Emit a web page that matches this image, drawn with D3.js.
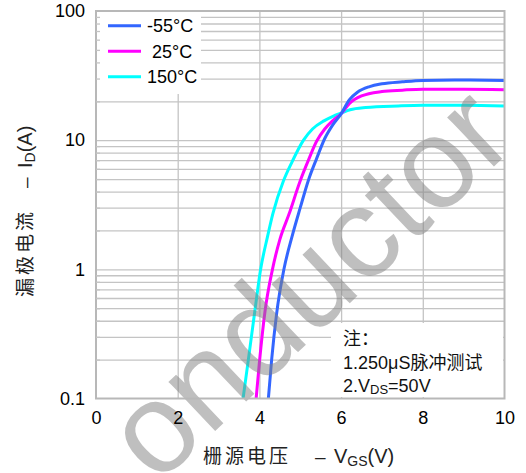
<!DOCTYPE html>
<html>
<head>
<meta charset="utf-8">
<script src="https://cdn.jsdelivr.net/npm/d3@7"></script>
<style>
  body { margin: 0; background: #fff; }
  svg { display: block; font-family: "Liberation Sans", Arial, "Noto Sans CJK SC", sans-serif; }
</style>
</head>
<body>
<script>
// series: VGS (V) and ID (A)
const seriesNames = ["-55°C", "25°C", "150°C"]
const seriesColors = ["#3366ff", "#ff00ff", "#00ffff"]

const vgsM55 = [4.22, 4.3, 4.42, 4.6, 4.8, 5.0, 5.2, 5.4, 5.6, 5.8, 6.0, 6.2, 6.4, 6.7, 7.0, 7.5, 8.0, 9.0, 10]
const idM55  = [0.1, 0.2, 0.45, 1, 1.8, 3, 4.9, 7.2, 10.3, 13.2, 16, 20.5, 23.5, 26, 27.3, 28.3, 29, 29.2, 29]

const vgs25 = [3.92, 4.0, 4.14, 4.32, 4.5, 4.73, 5.0, 5.2, 5.4, 5.6, 5.8, 6.0, 6.2, 6.5, 7.0, 7.5, 8.0, 9.0, 10]
const id25  = [0.1, 0.19, 0.48, 1, 1.7, 2.7, 4.85, 7, 9.8, 12.2, 14.2, 16, 19.2, 22, 23.8, 24.4, 24.8, 24.8, 24.6]

const vgs150 = [3.6, 3.73, 3.89, 4.03, 4.2, 4.33, 4.59, 4.8, 5.08, 5.3, 5.58, 5.8, 6.0, 6.22, 6.6, 7.4, 8.0, 9.0, 10]
const id150  = [0.1, 0.2, 0.48, 1, 1.8, 2.7, 4.85, 6.8, 10, 12.2, 14.1, 15.3, 16.2, 17.2, 17.9, 18.4, 18.6, 18.6, 18.4]

const xTicks = [0, 2, 4, 6, 8, 10]
const xGrid = [2, 4, 6, 8]
const yTicks = [0.1, 1, 10, 100]
const yTickLabels = ["0.1", "1", "10", "100"]

const series = [
    {name: seriesNames[0], color: seriesColors[0], pts: vgsM55.map((v, i) => [v, idM55[i]])},
    {name: seriesNames[1], color: seriesColors[1], pts: vgs25.map((v, i) => [v, id25[i]])},
    {name: seriesNames[2], color: seriesColors[2], pts: vgs150.map((v, i) => [v, id150[i]])}
]

const W = 526, H = 473
const pLeft = 96, pRight = 504.5, pTop = 11, pBottom = 398.5

const svg = d3.select("body").append("svg")
    .attr("width", W)
    .attr("height", H)

const x = d3.scaleLinear().domain([0, 10]).range([pLeft, pRight])
const y = d3.scaleLog().domain([0.1, 100]).range([pBottom, pTop])

// every 1..9 step inside each decade
const minor = []
for (let d = 0.1; d < 100; d *= 10) {
    for (let k = 2; k <= 9; k++) minor.push(+(d * k).toPrecision(2))
}
const gridVals = minor.concat([1, 10])

const gridColor = "#c4c4c4"

// horizontal grid
svg.append("g")
    .attr("transform", `translate(${pLeft},0)`)
    .call(d3.axisLeft(y).tickValues(gridVals).tickSize(-(pRight - pLeft)).tickFormat(""))
    .call(g => g.select(".domain").remove())
    .selectAll("line").attr("stroke", gridColor).attr("stroke-width", 1.3)

// vertical grid
svg.append("g")
    .attr("transform", `translate(0,${pBottom})`)
    .call(d3.axisBottom(x).tickValues(xGrid).tickSize(-(pBottom - pTop)).tickFormat(""))
    .call(g => g.select(".domain").remove())
    .selectAll("line").attr("stroke", gridColor).attr("stroke-width", 1.3)

svg.append("clipPath").attr("id", "plot")
    .append("rect").attr("x", pLeft).attr("y", pTop).attr("width", pRight - pLeft).attr("height", pBottom - pTop)

const line = d3.line()
    .x(d => x(d[0]))
    .y(d => y(d[1]))
    .curve(d3.curveMonotoneX)

svg.append("g").attr("clip-path", "url(#plot)")
    .selectAll("path")
    .data(series.slice().reverse())
    .join("path")
    .attr("d", d => line(d.pts))
    .attr("fill", "none")
    .attr("stroke", d => d.color)
    .attr("stroke-width", 3)

// watermark
svg.append("text")
    .attr("transform", "translate(157,486) rotate(-43.5)")
    .attr("font-size", 128)
    .attr("fill", "#808080")
    .attr("fill-opacity", 0.5)
    .text("onductor")

// legend
svg.append("rect")
    .attr("x", pLeft + 1).attr("y", pTop + 1).attr("width", 104).attr("height", 82)
    .attr("fill", "#fff")

const legend = svg.append("g")
series.forEach((s, i) => {
    const ly = 25.7 + i * 25.5
    legend.append("line")
        .attr("x1", 108).attr("x2", 141).attr("y1", ly).attr("y2", ly)
        .attr("stroke", s.color).attr("stroke-width", 3)
    legend.append("text")
        .attr("x", i === 1 ? 152 : 147).attr("y", ly + 6.5)
        .attr("font-size", 18)
        .text(s.name)
})

// note box
svg.append("rect")
    .attr("x", 331).attr("y", 323).attr("width", 172).attr("height", 74)
    .attr("fill", "#fff")

const note = svg.append("g").attr("font-size", 18).attr("fill", "#111")
note.append("text").attr("x", 343).attr("y", 345).text("注：")
note.append("text").attr("x", 343).attr("y", 369).text("1.250μS脉冲测试")
const n3 = note.append("text").attr("x", 343).attr("y", 392)
n3.append("tspan").text("2.V")
n3.append("tspan").attr("font-size", 13).attr("dy", 2).text("DS")
n3.append("tspan").attr("dy", -2).text("=50V")

// frame
svg.append("rect")
    .attr("x", pLeft).attr("y", pTop).attr("width", pRight - pLeft).attr("height", pBottom - pTop)
    .attr("fill", "none").attr("stroke", "#b8b8b8").attr("stroke-width", 2)

// small inner ticks on the left
svg.append("g")
    .attr("transform", `translate(${pLeft},0)`)
    .call(d3.axisRight(y).tickValues(minor).tickSize(4).tickFormat(""))
    .call(g => g.select(".domain").remove())
    .selectAll("line").attr("stroke", gridColor).attr("stroke-width", 1.3)

// tick labels
svg.append("g")
    .attr("transform", `translate(${pLeft},0)`)
    .call(d3.axisLeft(y).tickValues(yTicks).tickSize(0).tickPadding(11)
        .tickFormat((d, i) => yTickLabels[i]))
    .call(g => g.select(".domain").remove())
    .selectAll("text").attr("font-size", 18).attr("fill", "#000")
    .attr("font-family", "Liberation Sans, Arial, sans-serif")

svg.append("g")
    .attr("transform", `translate(0,${pBottom})`)
    .call(d3.axisBottom(x).tickValues(xTicks).tickSize(0).tickPadding(13).tickFormat(d3.format("d")))
    .call(g => g.select(".domain").remove())
    .selectAll("text").attr("font-size", 18).attr("fill", "#000")
    .attr("font-family", "Liberation Sans, Arial, sans-serif")

// axis titles
const xt = svg.append("text").attr("y", 463).attr("font-size", 19).attr("fill", "#222")
xt.append("tspan").attr("x", 203).attr("letter-spacing", 3).text("栅源电压")
xt.append("tspan").attr("x", 315).text("–")
xt.append("tspan").attr("x", 334).attr("font-size", 20).text("V")
xt.append("tspan").attr("font-size", 14).attr("dy", 3).text("GS")
xt.append("tspan").attr("font-size", 20).attr("dy", -3).text("(V)")

const yt = svg.append("text").attr("transform", "rotate(-90)").attr("y", 32)
    .attr("font-size", 19).attr("fill", "#222")
yt.append("tspan").attr("x", -297).attr("letter-spacing", 3).text("漏极电流")
yt.append("tspan").attr("x", -188).text("–")
yt.append("tspan").attr("x", -168).attr("font-size", 20).text("I")
yt.append("tspan").attr("font-size", 14).attr("dy", 3).text("D")
yt.append("tspan").attr("font-size", 20).attr("dy", -3).text("(A)")
</script>
</body>
</html>
